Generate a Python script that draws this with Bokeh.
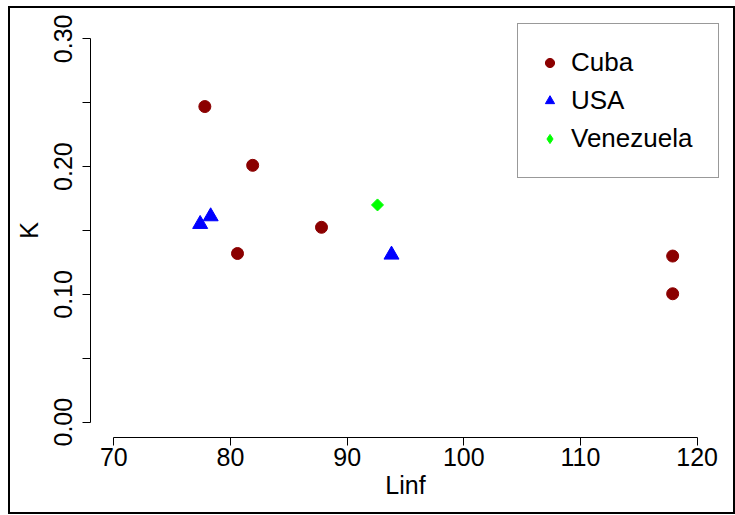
import math
from bokeh.plotting import figure
from bokeh.models import FixedTicker, Legend, LegendItem, Range1d, PrintfTickFormatter
from bokeh.embed import file_html
from bokeh.resources import INLINE

# ---- data ----
cuba_linf = [77.8, 81.9, 80.6, 87.8, 117.9, 117.9]
cuba_k = [0.247, 0.201, 0.132, 0.1525, 0.130, 0.1005]
usa_linf = [77.4, 78.3, 93.8]
usa_k = [0.155, 0.161, 0.131]
ven_linf = [92.6]
ven_k = [0.170]

x_ticks = [70, 80, 90, 100, 110, 120]
y_ticks = [0.0, 0.1, 0.2, 0.3]
y_minor = [0.05, 0.15, 0.25]

FONT = "Liberation Sans"

p = figure(width=727, height=508, output_backend="svg", toolbar_location=None,
           x_range=Range1d(68, 122), y_range=Range1d(-0.012, 0.312),
           min_border_left=80, min_border_right=17, min_border_top=15, min_border_bottom=79,
           styles={"border": "2px solid black", "margin-left": "8px", "margin-top": "6px"})
p.grid.visible = False
p.outline_line_color = None
p.background_fill_color = "white"
p.border_fill_color = "white"

r_cuba = p.scatter(cuba_linf, cuba_k, marker="circle", size=12, color="#8B0000")
r_usa = p.scatter(usa_linf, usa_k, marker="triangle", size=15, color="#0000FF")
r_ven = p.scatter(ven_linf, ven_k, marker="square", size=8.5, angle=math.pi / 4, color="#00FF00")
# legend key only (a NaN point draws nothing on the plot) so the legend shows a diamond
r_ven_key = p.scatter(x=[float("nan")], y=[float("nan")], marker="diamond", size=12, color="#00FF00")

# axes
xa = p.xaxis[0]
xa.ticker = FixedTicker(ticks=x_ticks)
xa.bounds = (70, 120)
xa.axis_label = "Linf"
ya = p.yaxis[0]
ya.ticker = FixedTicker(ticks=y_ticks, minor_ticks=y_minor)
ya.bounds = (0, 0.3)
ya.axis_label = "K"
ya.formatter = PrintfTickFormatter(format="%.2f")
ya.major_label_orientation = "vertical"

for ax in (xa, ya):
    ax.axis_line_color = "black"
    ax.major_tick_line_color = "black"
    ax.minor_tick_line_color = "black"
    ax.major_tick_out = 8
    ax.major_tick_in = 0
    ax.major_label_text_font = FONT
    ax.major_label_text_font_size = "25px"
    ax.major_label_text_color = "black"
    ax.axis_label_text_font = FONT
    ax.axis_label_text_font_size = "25px"
    ax.axis_label_text_font_style = "normal"
    ax.axis_label_text_color = "black"
xa.minor_tick_out = 0
xa.minor_tick_in = 0
ya.minor_tick_out = 8
ya.minor_tick_in = 0
xa.major_label_standoff = 2
xa.axis_label_standoff = 2
ya.major_label_standoff = 10
ya.axis_label_standoff = 9

legend = Legend(items=[LegendItem(label="Cuba", renderers=[r_cuba]),
                       LegendItem(label="USA", renderers=[r_usa]),
                       LegendItem(label="Venezuela", renderers=[r_ven_key])],
                location=(427, 259))
legend.label_text_font = FONT
legend.label_text_font_size = "26px"
legend.label_text_color = "black"
legend.padding = 20
legend.spacing = 1
legend.label_height = 37
legend.glyph_height = 23
legend.glyph_width = 23
legend.label_standoff = 10
legend.label_width = 127
legend.margin = 0
legend.border_line_color = "#333333"
legend.border_line_width = 1.5
legend.background_fill_color = "white"
legend.background_fill_alpha = 1
p.add_layout(legend, "center")

open("out.html", "w").write(file_html(p, INLINE))
